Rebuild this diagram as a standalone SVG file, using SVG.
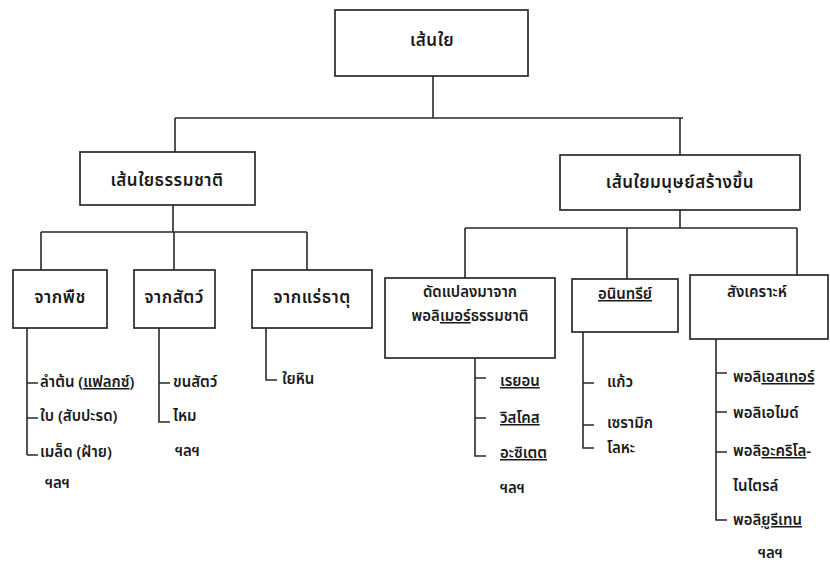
<svg xmlns="http://www.w3.org/2000/svg" width="830" height="566" viewBox="0 0 830 566">
<style>
.box{fill:#fff;stroke:#2a2a2a;stroke-width:1.7}
.ln{fill:none;stroke:#2a2a2a;stroke-width:1.6}
text{font-family:"Noto Sans Thai","Noto Sans","DejaVu Sans",sans-serif;font-size:15px;font-weight:600;fill:#1a1a1a}
.c{text-anchor:middle}
.b{font-size:17px;letter-spacing:0.5px}
.t{font-size:14px}
.u{text-decoration:underline}
</style>
<rect width="830" height="566" fill="#fff"/>
<g id="connectors" class="ln">
<path d="M433 76V118M175 118H683M175 118V152M680 118V155"/>
<path d="M173 205V232M41 232H307M41 232V270M174 232V270M307 232V270"/>
<path d="M680 210V228M465 228H797M465 228V278M627 228V279M797 228V275"/>
<path d="M27 328V455M27 383H38M27 418H38M27 455H38"/>
<path d="M159 328V422H170M159 383H170"/>
<path d="M266 328V380H277"/>
<path d="M475 358V456H486M475 378H486M475 418H486"/>
<path d="M583 332V448H594M583 383H594M583 425H594"/>
<path d="M716 339V520H727M716 373H727M716 412H727M716 452H727"/>
</g>
<g id="n-root"><rect class="box" x="335" y="10" width="193" height="66"/><text class="c b" x="432" y="46">เส้นใย</text></g>
<g id="n-natural"><rect class="box" x="80" y="152" width="175" height="53"/><text class="c b" x="167" y="186">เส้นใยธรรมชาติ</text></g>
<g id="n-manmade"><rect class="box" x="560" y="155" width="240" height="55"/><text class="c b" x="680" y="188">เส้นใยมนุษย์สร้างขึ้น</text></g>
<g id="n-plant"><rect class="box" x="13" y="270" width="94" height="58"/><text class="c b" x="60" y="303">จากพืช</text></g>
<g id="n-animal"><rect class="box" x="134" y="270" width="81" height="58"/><text class="c b" x="174" y="303">จากสัตว์</text></g>
<g id="n-mineral"><rect class="box" x="252" y="270" width="120" height="58"/><text class="c b" x="312" y="303">จากแร่ธาตุ</text></g>
<g id="n-modified"><rect class="box" x="385" y="278" width="170" height="80"/><text class="c" x="470" y="297">ดัดแปลงมาจาก</text><text class="c" x="470" y="321">พอลิ<tspan class="u">เมอร์</tspan>ธรรมชาติ</text></g>
<g id="n-inorganic"><rect class="box" x="572" y="279" width="106" height="53"/><text class="c u" x="625" y="299">อนินทรีย์</text></g>
<g id="n-synthetic"><rect class="box" x="690" y="275" width="138" height="64"/><text class="c" x="757" y="297">สังเคราะห์</text></g>
<g id="l-plant"><text x="40" y="387">ลำต้น (<tspan class="u">แฟลกซ์</tspan>)</text><text x="40" y="421">ใบ (สับปะรด)</text><text x="40" y="457">เมล็ด (ฝ้าย)</text><text x="45" y="488">ฯลฯ</text></g>
<g id="l-animal"><text x="173" y="387">ขนสัตว์</text><text x="173" y="421">ไหม</text><text x="175" y="456">ฯลฯ</text></g>
<g id="l-mineral"><text x="282" y="384">ใยหิน</text></g>
<g id="l-modified"><text class="u" x="500" y="386">เรยอน</text><text class="u" x="500" y="423">วิสโคส</text><text class="u" x="500" y="458">อะซิเตต</text><text x="500" y="493">ฯลฯ</text></g>
<g id="l-inorganic"><text x="607" y="387">แก้ว</text><text x="607" y="428">เซรามิก</text><text x="607" y="453">โลหะ</text></g>
<g id="l-synthetic" class="t"><text x="733" y="382">พอลิ<tspan class="u">เอสเทอร์</tspan></text><text x="733" y="418">พอลิเอไมด์</text><text x="733" y="456">พอลิ<tspan class="u">อะคริโล</tspan>-</text><text x="733" y="491">ไนไตรล์</text><text x="733" y="525">พอลิ<tspan class="u">ยูรีเทน</tspan></text><text x="758" y="558">ฯลฯ</text></g>
</svg>
